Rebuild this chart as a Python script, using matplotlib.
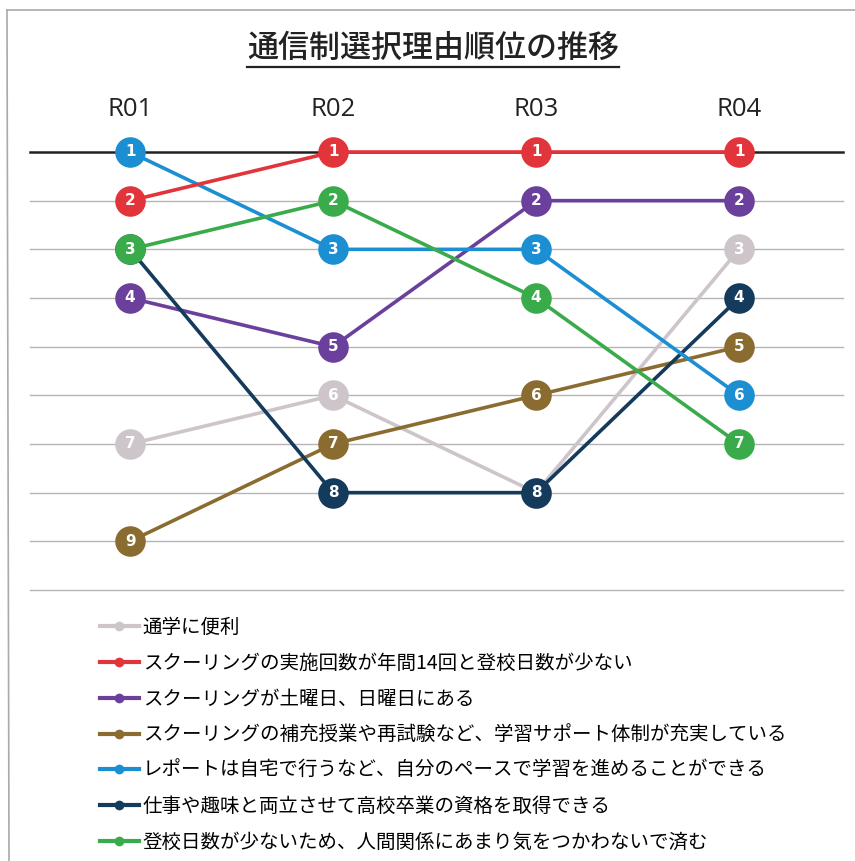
import numpy as np
import matplotlib
matplotlib.use("Agg")
import matplotlib.pyplot as plt
from matplotlib.lines import Line2D

plt.rcParams['font.family'] = ['Noto Sans CJK JP', 'DejaVu Sans']

# データ
years = ['R01', 'R02', 'R03', 'R04']
labels = ['通学に便利',
          'スクーリングの実施回数が年間14回と登校日数が少ない',
          'スクーリングが土曜日、日曜日にある',
          'スクーリングの補充授業や再試験など、学習サポート体制が充実している',
          'レポートは自宅で行うなど、自分のペースで学習を進めることができる',
          '仕事や趣味と両立させて高校卒業の資格を取得できる',
          '登校日数が少ないため、人間関係にあまり気をつかわないで済む']
ranks_gray = [7, 6, 8, 3]
ranks_red = [2, 1, 1, 1]
ranks_purple = [4, 5, 2, 2]
ranks_brown = [9, 7, 6, 5]
ranks_blue = [1, 3, 3, 6]
ranks_navy = [3, 8, 8, 4]
ranks_green = [3, 2, 4, 7]
ranks = [ranks_gray, ranks_red, ranks_purple, ranks_brown, ranks_blue, ranks_navy, ranks_green]
colors = ['#cdc5ca', '#e1353b', '#6a409c', '#8b6c30', '#1c8fd3', '#143a5c', '#3aab4b']
zorders = [3, 9, 5, 4, 7, 6, 8]
grid_ranks = np.arange(1, 11)

W, H = 855, 861
fig = plt.figure(figsize=(W / 100, H / 100), dpi=100)
ax = fig.add_axes([30 / W, 1 - 590 / H, (843 - 30) / W, (590 - 152) / H])
x = np.arange(len(years))

# 目盛り線
for g in grid_ranks:
    if g == 1:
        ax.axhline(g, color='#222222', lw=1.8, zorder=1, clip_on=False)
    else:
        ax.axhline(g, color='#b5b5b5', lw=1.0, zorder=1, clip_on=False)

for r, c, z in zip(ranks, colors, zorders):
    ax.plot(x, r, color=c, lw=2.6, marker='o', ms=22, mec='none', zorder=z, clip_on=False)
    for xi, ri in zip(x, r):
        ax.text(xi, ri, str(ri), color='white', fontsize=11, fontweight='bold',
                ha='center', va='center', zorder=z + 0.5, family='DejaVu Sans')

for xi, yr in zip(x, years):
    ax.text(xi, 0.12, yr, ha='center', va='center', fontsize=18.5, color='#222222',
            family='Open Sans')

ax.set_xlim(-0.493, 3.512)
ax.set_ylim(10, 1)
ax.axis('off')

# タイトル（下線付き）
t = fig.text(433 / W, 1 - 48 / H, '通信制選択理由順位の推移', ha='center', va='center',
             fontsize=22.3, fontweight='medium', color='#222222')
fig.canvas.draw()
bb = t.get_window_extent().transformed(fig.transFigure.inverted())
fig.add_artist(Line2D([bb.x0, bb.x1], [1 - 67 / H, 1 - 67 / H], color='#222222', lw=1.6,
                      transform=fig.transFigure))

# 凡例
handles = [Line2D([], [], color=c, lw=3, marker='o', ms=7, mec='none') for c in colors]
fig.legend(handles, labels, loc='upper left', bbox_to_anchor=(100 / W, 1 - 617 / H),
           frameon=False, fontsize=14, handlelength=2.0, handletextpad=0.2,
           labelspacing=0.76, borderpad=0, borderaxespad=0)

# 枠線
fig.add_artist(Line2D([7 / W, 1], [1 - 10 / H, 1 - 10 / H], color='#aaaaaa', lw=1.2,
                      transform=fig.transFigure))
fig.add_artist(Line2D([7 / W, 9 / W], [1 - 10 / H, 0], color='#aaaaaa', lw=1.2,
                      transform=fig.transFigure))

fig.savefig('out.png', dpi=100, facecolor='white')
